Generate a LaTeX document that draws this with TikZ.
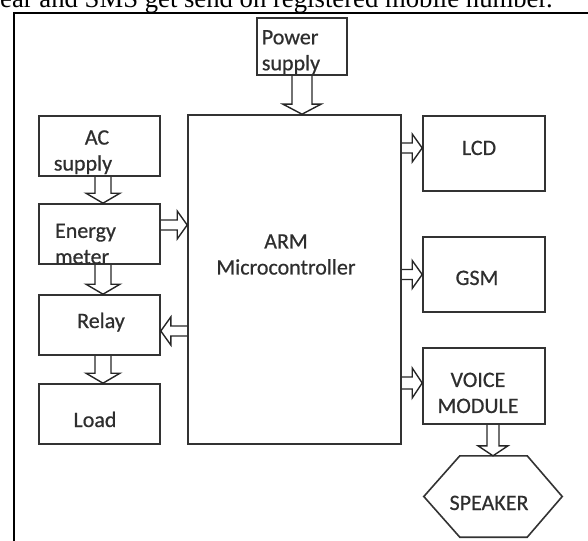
\documentclass[tikz,border=0pt]{standalone}
\usepackage{fontspec}
\setmainfont{Carlito}
\newfontfamily\capfont{Liberation Serif}
\newfontfamily\boxfont[FakeBold=0.6]{Carlito}
\usetikzlibrary{calc}

\begin{document}
\begin{tikzpicture}[
    x=1pt, y=-1pt,
    box/.style={draw=black!80, line width=1.6pt, inner sep=0pt},
    outline/.style={draw=black!80, line width=1.6pt},
    txt/.style={font=\boxfont\fontsize{22}{26}\selectfont, text=black!82, inner sep=0pt},
    fat/.style={draw=black!85, line width=1.4pt, to path={
        let \p1=(\tikztostart), \p2=(\tikztotarget),
            \n1={atan2(\y2-\y1,\x2-\x1)}, \n2={veclen(\x2-\x1,\y2-\y1)} in
        ([shift={(\p1)},rotate=\n1]0pt,#1pt)
        -- ([shift={(\p1)},rotate=\n1]\n2*1pt-10pt,#1pt)
        -- ([shift={(\p1)},rotate=\n1]\n2*1pt-10pt,#1pt+9pt)
        -- ([shift={(\p1)},rotate=\n1]\n2*1pt,0pt)
        -- ([shift={(\p1)},rotate=\n1]\n2*1pt-10pt,-#1pt-9pt)
        -- ([shift={(\p1)},rotate=\n1]\n2*1pt-10pt,-#1pt)
        -- ([shift={(\p1)},rotate=\n1]0pt,-#1pt)
    }},
    fat/.default=5,
]
    \useasboundingbox (0,0) rectangle (588,540);
    \clip (0,0) rectangle (588,540);

    % caption line cut off at the top
    \node[anchor=base west, inner sep=0pt, font=\capfont\fontsize{26.7}{30}\selectfont] (cap) at (0,8) {ear and SMS get send on registered mobile number.};
    \draw[line width=2pt] (600,13) -- (14,13) -- (14,560);

    % Blocks
    \node[box, minimum width=90pt, minimum height=57pt] (power) at (302,46.5) {};
    \node[box, minimum width=213pt, minimum height=329pt] (arm) at (294.5,279.5) {};
    \node[box, minimum width=121pt, minimum height=60pt] (ac) at (99.5,146) {};
    \node[box, minimum width=121pt, minimum height=60pt] (em) at (99.5,234) {};
    \node[box, minimum width=121pt, minimum height=60pt] (relay) at (99.5,325) {};
    \node[box, minimum width=121pt, minimum height=60pt] (load) at (99.5,414) {};
    \node[box, minimum width=122pt, minimum height=75pt] (lcd) at (484,153.5) {};
    \node[box, minimum width=122pt, minimum height=75pt] (gsm) at (484,274.5) {};
    \node[box, minimum width=122pt, minimum height=76pt] (voice) at (484,386) {};
    \node[minimum width=138pt, minimum height=81pt, inner sep=0pt] (spk) at (493,496.5) {};
    \draw[outline] (spk.west) -- ([xshift=36pt]spk.north west) -- ([xshift=-35pt]spk.north east)
        -- (spk.east) -- ([xshift=-35pt]spk.south east) -- ([xshift=36pt]spk.south west) -- cycle;

    % Texts
    \node[txt, align=left] (powertxt) at (291,52) {Power\\supply};
    \node[txt, align=left] (actxt) at (83,152.2) {\hspace*{31pt}AC\\supply};
    \node[txt, align=left] (emtxt) at (85.5,243.9) {Energy\\meter};
    \node[txt, align=center] (armtxt) at (286,254.5) {ARM\\Microcontroller};
    \node[txt, align=center] (voicetxt) at (478,392.9) {VOICE\\MODULE};
    \node[txt, anchor=base] (relaytxt) at (101,328) {Relay};
    \node[txt, anchor=base] (loadtxt) at (95,427) {Load};
    \node[txt, anchor=base] (lcdtxt) at (479,155) {LCD};
    \node[txt, anchor=base] (gsmtxt) at (477,285) {GSM};
    \node[txt, anchor=base] (spktxt) at (489,510) {SPEAKER};

    % Arrows
    \draw[fat=10] (power.south) to (power.south |- arm.north);
    \draw[fat=8] ([xshift=3.5pt]ac.south) to ([xshift=3.5pt]em.north);
    \draw[fat=8] ([xshift=3.5pt]em.south) to ([xshift=3.5pt]relay.north);
    \draw[fat=8] ([xshift=3.5pt]relay.south) to ([xshift=3.5pt]load.north);
    \draw[fat] ($(em.east)+(0,-9)$) to ($(em.east -| arm.west)+(0,-9)$);
    \draw[fat] ($(relay.east -| arm.west)+(0,6)$) to ($(relay.east)+(0,6)$);
    \draw[fat] ($(lcd.west -| arm.east)+(0,-5.5)$) to ($(lcd.west)+(0,-5.5)$);
    \draw[fat] (gsm.west -| arm.east) to (gsm.west);
    \draw[fat=6] ($(voice.west -| arm.east)+(0,-3)$) to ($(voice.west)+(0,-3)$);
    \draw[fat=6] (spk.north |- voice.south) to (spk.north);
\end{tikzpicture}
\end{document}
